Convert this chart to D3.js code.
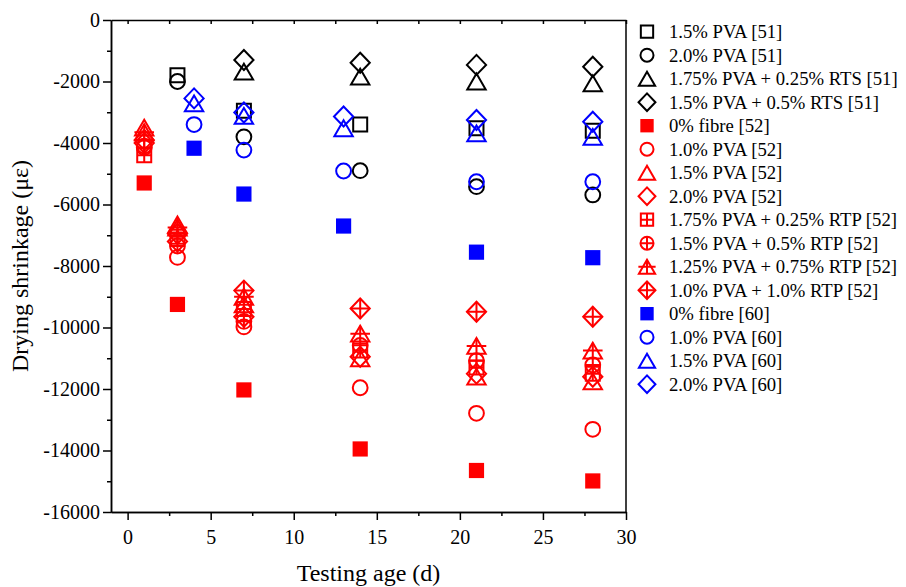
<!DOCTYPE html>
<html>
<head>
<meta charset="utf-8">
<script src="https://cdn.jsdelivr.net/npm/d3@7"></script>
<style>
  html, body { margin: 0; padding: 0; background: #fff; }
  svg { display: block; font-family: "Liberation Serif", "Times New Roman", serif; }
</style>
</head>
<body>
<svg id="chart" width="906" height="587"></svg>
<script>
// Testing ages (days) per data source
const ages51 = [3, 7, 14, 21, 28];
const ages51rts = [7, 14, 21, 28];
const ages52 = [1, 3, 7, 14, 21, 28];
const ages60 = [4, 7, 13, 21, 28];

// Drying shrinkage (micro-strain)
const pva15_51 = [-1800, -2950, -3400, -3520, -3600];
const pva20_51 = [-2000, -3800, -4900, -5420, -5690];
const pva175rts_51 = [-1680, -1840, -2000, -2060];
const pva15rts_51 = [-1300, -1390, -1460, -1520];

const fibre0_52 = [-5300, -9250, -12030, -13950, -14650, -14990];
const pva10_52 = [-4100, -7720, -9980, -11960, -12790, -13310];
const pva15_52 = [-3500, -6650, -9250, -11000, -11600, -11750];
const pva20_52 = [-4000, -7200, -9650, -10950, -11500, -11600];
const pva175rtp_52 = [-4400, -7050, -9400, -10750, -11300, -11500];
const pva15rtp_52 = [-4150, -7350, -9800, -10580, -11080, -11220];
const pva125rtp_52 = [-3650, -6750, -9000, -10200, -10600, -10750];
const pva10rtp_52 = [-3900, -6950, -8800, -9380, -9490, -9650];

const fibre0_60 = [-4170, -5660, -6700, -7550, -7730];
const pva10_60 = [-3400, -4230, -4910, -5260, -5260];
const pva15_60 = [-2710, -3120, -3520, -3690, -3800];
const pva20_60 = [-2550, -3010, -3140, -3250, -3310];

const xTicks = [0, 5, 10, 15, 20, 25, 30];
const xMinorTicks = [2.5, 7.5, 12.5, 17.5, 22.5, 27.5];
const yTicks = [0, -2000, -4000, -6000, -8000, -10000, -12000, -14000, -16000];
const yMinorTicks = [-1000, -3000, -5000, -7000, -9000, -11000, -13000, -15000];

const series = [
  { name: "1.5% PVA [51]", ages: ages51, values: pva15_51, shape: "square", color: "#000000", filled: false, cross: false },
  { name: "2.0% PVA [51]", ages: ages51, values: pva20_51, shape: "circle", color: "#000000", filled: false, cross: false },
  { name: "1.75% PVA + 0.25% RTS [51]", ages: ages51rts, values: pva175rts_51, shape: "triangle", color: "#000000", filled: false, cross: false },
  { name: "1.5% PVA + 0.5% RTS [51]", ages: ages51rts, values: pva15rts_51, shape: "diamond", color: "#000000", filled: false, cross: false },
  { name: "0% fibre [52]", ages: ages52, values: fibre0_52, shape: "square", color: "#ff0000", filled: true, cross: false },
  { name: "1.0% PVA [52]", ages: ages52, values: pva10_52, shape: "circle", color: "#ff0000", filled: false, cross: false },
  { name: "1.5% PVA [52]", ages: ages52, values: pva15_52, shape: "triangle", color: "#ff0000", filled: false, cross: false },
  { name: "2.0% PVA [52]", ages: ages52, values: pva20_52, shape: "diamond", color: "#ff0000", filled: false, cross: false },
  { name: "1.75% PVA + 0.25% RTP [52]", ages: ages52, values: pva175rtp_52, shape: "square", color: "#ff0000", filled: false, cross: true },
  { name: "1.5% PVA + 0.5% RTP [52]", ages: ages52, values: pva15rtp_52, shape: "circle", color: "#ff0000", filled: false, cross: true },
  { name: "1.25% PVA + 0.75% RTP [52]", ages: ages52, values: pva125rtp_52, shape: "triangle", color: "#ff0000", filled: false, cross: true },
  { name: "1.0% PVA + 1.0% RTP [52]", ages: ages52, values: pva10rtp_52, shape: "diamond", color: "#ff0000", filled: false, cross: true },
  { name: "0% fibre [60]", ages: ages60, values: fibre0_60, shape: "square", color: "#0000ff", filled: true, cross: false },
  { name: "1.0% PVA [60]", ages: ages60, values: pva10_60, shape: "circle", color: "#0000ff", filled: false, cross: false },
  { name: "1.5% PVA [60]", ages: ages60, values: pva15_60, shape: "triangle", color: "#0000ff", filled: false, cross: false },
  { name: "2.0% PVA [60]", ages: ages60, values: pva20_60, shape: "diamond", color: "#0000ff", filled: false, cross: false }
];

const serif = "'Liberation Serif', 'Times New Roman', serif";
const svg = d3.select("#chart");
const plotLeft = 111, plotRight = 626, plotTop = 20, plotBottom = 512;

const x = d3.scaleLinear().domain([-1, 30]).range([plotLeft, plotRight]);
const y = d3.scaleLinear().domain([-16000, 0]).range([plotBottom, plotTop]);

// Marker outline paths centred on (0,0), scaled by k
function outlinePath(shape, k, filled) {
  const p = d3.path();
  if (shape === "square") {
    const h = (filled ? 7.6 : 7) * k;
    p.rect(-h, -h, 2 * h, 2 * h);
  } else if (shape === "circle") {
    p.arc(0, 0, 7.4 * k, 0, 2 * Math.PI);
    p.closePath();
  } else if (shape === "triangle") {
    const w = 9.2 * k, h = 7.9 * k;
    p.moveTo(0, -h); p.lineTo(w, h); p.lineTo(-w, h); p.closePath();
  } else if (shape === "diamond") {
    const w = 9.6 * k, h = 10 * k;
    p.moveTo(0, -h); p.lineTo(w, 0); p.lineTo(0, h); p.lineTo(-w, 0); p.closePath();
  }
  return p.toString();
}
// Cross hairs for the RTP-blend symbols
function crossPath(shape, k) {
  const p = d3.path();
  let w, h;
  if (shape === "square") { w = 7 * k; h = 7 * k; }
  else if (shape === "circle") { w = 7.4 * k; h = 7.4 * k; }
  else if (shape === "triangle") { w = 9.8 * k; h = 7.9 * k; }
  else { w = 9.6 * k; h = 10 * k; }
  p.moveTo(-w, 0); p.lineTo(w, 0);
  p.moveTo(0, -h); p.lineTo(0, h);
  return p.toString();
}

function drawMarker(g, s, k) {
  g.append("path")
    .attr("d", outlinePath(s.shape, k, s.filled))
    .attr("fill", s.filled ? s.color : "none")
    .attr("stroke", s.filled ? "none" : s.color)
    .attr("stroke-width", 2);
  if (s.cross) {
    g.append("path")
      .attr("d", crossPath(s.shape, k))
      .attr("fill", "none")
      .attr("stroke", s.color)
      .attr("stroke-width", 2);
  }
}

// Axes
const fmt = d => String(d);
const axisFont = 20;

svg.append("g").attr("transform", `translate(0,${plotBottom})`)
  .call(d3.axisBottom(x).tickValues(xTicks).tickFormat(fmt).tickSize(8).tickSizeOuter(0).tickPadding(10));
svg.append("g").attr("transform", `translate(0,${plotBottom})`)
  .call(d3.axisBottom(x).tickValues(xMinorTicks).tickFormat("").tickSize(4).tickSizeOuter(0));

svg.append("g").attr("transform", `translate(${plotLeft},0)`)
  .call(d3.axisLeft(y).tickValues(yTicks).tickFormat(fmt).tickSize(8).tickSizeOuter(0).tickPadding(3));
svg.append("g").attr("transform", `translate(${plotLeft},0)`)
  .call(d3.axisLeft(y).tickValues(yMinorTicks).tickFormat("").tickSize(4).tickSizeOuter(0));

// Top axis with inward ticks, right edge as a plain line
svg.append("g").attr("transform", `translate(0,${plotTop})`)
  .call(d3.axisTop(x).tickValues(xTicks.concat(xMinorTicks)).tickFormat("").tickSize(-4).tickSizeOuter(0));
svg.append("line").attr("x1", plotRight).attr("x2", plotRight).attr("y1", plotTop).attr("y2", plotBottom)
  .attr("stroke", "#000").attr("stroke-width", 1.5);

svg.selectAll(".domain").attr("stroke", "#000").attr("stroke-width", 1.5);
svg.selectAll(".tick line").attr("stroke", "#000").attr("stroke-width", 1.5);
svg.selectAll("g").filter(function () { return this.getAttribute("font-family"); })
  .attr("font-family", serif);
svg.selectAll(".tick text").attr("font-size", axisFont).attr("fill", "#000")
  .attr("font-family", serif);

// Axis titles
svg.append("text")
  .attr("x", (plotLeft + plotRight) / 2).attr("y", 581)
  .attr("text-anchor", "middle").attr("font-size", 24).attr("fill", "#000")
  .attr("font-family", serif)
  .text("Testing age (d)");
svg.append("text")
  .attr("transform", `translate(28,${(plotTop + plotBottom) / 2}) rotate(-90)`)
  .attr("text-anchor", "middle").attr("font-size", 24).attr("fill", "#000")
  .attr("font-family", serif)
  .text("Drying shrinkage (με)");

// Data markers
const plot = svg.append("g");
series.forEach(s => {
  s.values.forEach((v, i) => {
    const g = plot.append("g").attr("transform", `translate(${x(s.ages[i])},${y(v)})`);
    drawMarker(g, s, 1);
  });
});

// Legend
const legend = svg.append("g");
series.forEach((s, i) => {
  const cy = 31.7 + i * 23.5;
  const g = legend.append("g").attr("transform", `translate(647,${cy})`);
  drawMarker(g, s, 0.88);
  legend.append("text")
    .attr("x", 669).attr("y", cy + 6.5)
    .attr("font-size", 18.7).attr("fill", "#000")
    .attr("font-family", serif)
    .text(s.name);
});
</script>
</body>
</html>
